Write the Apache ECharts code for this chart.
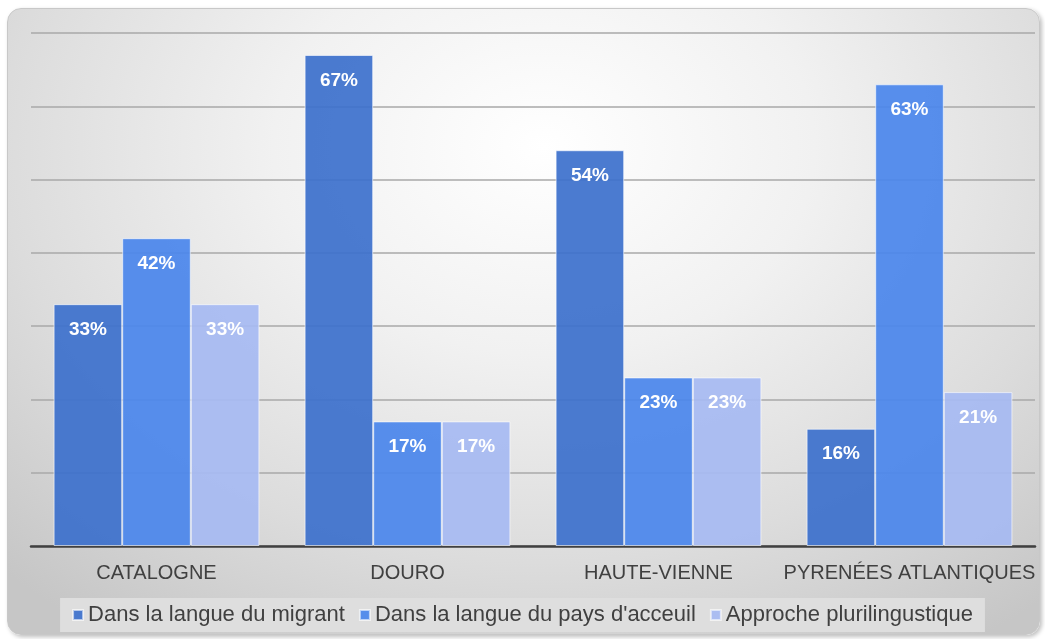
<!DOCTYPE html>
<html><head><meta charset="utf-8">
<script src="https://cdn.jsdelivr.net/npm/echarts@6/dist/echarts.min.js"></script>
<style>
html,body{margin:0;padding:0;width:1045px;height:639px;background:#fff;overflow:hidden}
#bg{position:absolute;left:7px;top:8px;width:1031px;height:625px;border-radius:14px;border:1px solid #c8c8c8;
background:radial-gradient(ellipse 75% 95% at 52% 22%, #ffffff 0%, #f1f1f1 35%, #dcdcdc 70%, #c6c6c6 100%);
box-shadow:2px 2px 4px rgba(0,0,0,0.25)}
#chart{position:absolute;left:0;top:0;width:1045px;height:639px}
</style></head>
<body><div id="bg"></div><div id="chart"></div>
<script>
const categories = ['CATALOGNE', 'DOURO', 'HAUTE-VIENNE', 'PYRENÉES ATLANTIQUES'];
const seriesNames = ['Dans la langue du migrant', "Dans la langue du pays d'acceuil", 'Approche plurilingustique'];
const migrant = [33, 67, 54, 16];
const paysAccueil = [42, 17, 23, 63];
const plurilingue = [33, 17, 23, 21];
const colors = ['rgba(60,112,204,0.92)', 'rgba(74,134,236,0.92)', 'rgba(166,186,242,0.92)'];

const chart = echarts.init(document.getElementById('chart'));
const mk = (name, data, i) => ({
  name, type: 'bar', data, barGap: '0%', barCategoryGap: '18%',
  itemStyle: { color: colors[i], borderColor: 'rgba(255,255,255,0.6)', borderWidth: 1 },
  label: { show: true, position: 'insideTop', distance: 16, formatter: '{c}%', color: '#fff',
    fontWeight: 'bold', fontSize: 19, fontFamily: 'Liberation Sans, Arial, sans-serif' }
});
chart.setOption({
  backgroundColor: 'transparent',
  textStyle: { fontFamily: 'Liberation Sans, Arial, sans-serif' },
  grid: { left: 31, right: 10, top: 33, bottom: 93, containLabel: false },
  legend: {
    bottom: 7, left: 'center', itemWidth: 10, itemHeight: 10, itemGap: 14, icon: 'rect',
    backgroundColor: '#dedede', padding: [6, 12],
    textStyle: { fontSize: 22, color: '#404040', padding: [0, 0, 0, 0] }
  },
  xAxis: {
    type: 'category', data: categories,
    axisLine: { lineStyle: { color: '#404040', width: 2.5 } },
    axisTick: { show: false },
    axisLabel: { interval: 0, fontSize: 20, color: '#404040', margin: 17 }
  },
  yAxis: {
    type: 'value', min: 0, max: 70, interval: 10,
    axisLabel: { show: false }, axisLine: { show: false }, axisTick: { show: false },
    splitLine: { lineStyle: { color: '#a9a9a9', width: 1.5 } }
  },
  series: [mk(seriesNames[0], migrant, 0), mk(seriesNames[1], paysAccueil, 1), mk(seriesNames[2], plurilingue, 2)]
});
</script></body></html>
